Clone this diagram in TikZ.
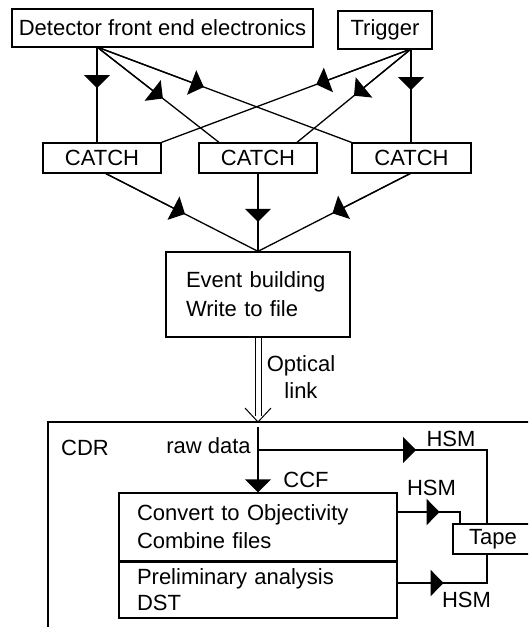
\documentclass[tikz,border=0pt]{standalone}
\usepackage{fontspec}
\setmainfont{Liberation Sans}
\usetikzlibrary{arrows.meta,calc}
\begin{document}
\begin{tikzpicture}[x=1pt,y=-1pt,
  every node/.style={font=\fontsize{22}{25}\selectfont},
  lw/.style={line width=1.3pt},
  box/.style={draw,lw,rectangle,inner sep=0pt,anchor=center},
  lbl/.style={inner sep=0pt,anchor=center},
  tipa/.style={lw,-{Triangle[width=26pt,length=13pt]}},
  conn/.style={lw}
]
\useasboundingbox (0,0) rectangle (528,627);
\clip (0,0) rectangle (528,627);

% top boxes
\node[box,minimum width=301pt,minimum height=38pt] (det) at (162.5,28) {Detector front end electronics};
\node[box,minimum width=94pt,minimum height=38pt] (trg) at (385,30) {Trigger};
\node[box,minimum width=118pt,minimum height=30pt] (c1) at (102,158) {CATCH};
\node[box,minimum width=118pt,minimum height=30pt] (c2) at (258,158) {CATCH};
\node[box,minimum width=119pt,minimum height=30pt] (c3) at (411.5,158) {CATCH};

\coordinate (d0) at (97,47);
\coordinate (t0) at (411,49);
\coordinate (c1t) at (d0 |- c1.north);
\coordinate (c2tl) at ([xshift=-39pt]c2.north);
\coordinate (c3t) at (t0 |- c3.north);
\coordinate (c2tr) at ([xshift=39pt]c2.north);

\draw[conn] (d0) -- (c1t);
\draw[tipa] (d0) -- ($(d0)!0.43!(c1t)$);
\draw[conn] (d0) -- (c2tl);
\draw[tipa] (d0) -- ($(d0)!0.54!(c2tl)$);
\draw[conn] (d0) -- (c3.north west);
\draw[tipa] (d0) -- ($(d0)!0.42!(c3.north west)$);
\draw[conn] (t0) -- (c3t);
\draw[tipa] (t0) -- ($(t0)!0.44!(c3t)$);
\draw[conn] (t0) -- (c2tr);
\draw[tipa] (t0) -- ($(t0)!0.5!(c2tr)$);
\draw[conn] (t0) -- (c1.north east);
\draw[tipa] (t0) -- ($(t0)!0.38!(c1.north east)$);

% event building
\node[box,minimum width=184pt,minimum height=85pt,text width=144pt,align=left,font=\fontsize{22}{29}\selectfont] (ev) at (258,294.5) {Event building\\Write to file};

\coordinate (c1b) at ([xshift=4pt]c1.south);
\coordinate (c3b) at ([xshift=-1.5pt]c3.south);
\draw[conn] (c1b) -- (ev.north);
\draw[tipa] (c1b) -- ($(c1b)!0.52!(ev.north)$);
\draw[conn] (c2.south) -- (ev.north);
\draw[tipa] (c2.south) -- ($(c2.south)!0.62!(ev.north)$);
\draw[conn] (c3b) -- (ev.north);
\draw[tipa] (c3b) -- ($(c3b)!0.51!(ev.north)$);

% optical link
\coordinate (oa) at (258,422);
\draw[line width=1pt] ([xshift=-3pt]ev.south) -- ([xshift=-3pt,yshift=6pt]oa);
\draw[line width=1pt] ([xshift=3pt]ev.south) -- ([xshift=3pt,yshift=6pt]oa);
\draw[line width=1pt] ([xshift=-13pt,yshift=14pt]oa) -- (oa) -- ([xshift=13pt,yshift=14pt]oa);
\node[lbl,align=center,font=\fontsize{22}{27}\selectfont] (opt) at (301,377.5) {Optical\\link};

% CDR frame
\coordinate (cdrbl) at (48,640);
\coordinate (cdrtl) at (48,422);
\coordinate (cdrtr) at (540,422);
\draw[lw] (cdrbl) -- (cdrtl) -- (cdrtr);
\node[lbl] (cdr) at (85,448) {CDR};
\node[lbl] (raw) at (208.5,446) {raw data};

\node[box,minimum width=278pt,minimum height=68pt,text width=242pt,align=left,font=\fontsize{22}{28}\selectfont] (ccf) at (258,527) {Convert to Objectivity\\Combine files};
\node[box,minimum width=278pt,minimum height=57pt,text width=242pt,align=left,font=\fontsize{22}{26}\selectfont] (pre) at (258,589.5) {Preliminary analysis\\DST};
\draw[line width=2pt] (ccf.south west) -- (ccf.south east);

\node[lbl] (ccflbl) at (306,480) {CCF};
\coordinate (rd) at (258,427);
\draw[tipa] (rd) -- (ccf.north);

\node[box,minimum width=80pt,minimum height=30pt] (tape) at (493,539) {Tape};

\coordinate (rdh) at (258,450);
\coordinate (tv) at (487,450);
\draw[conn] (rdh) -- (tv) -- (tv |- tape.north);
\draw[tipa] (rdh) -- ($(rdh)+(158,0)$);
\node[lbl] (hsm1) at (451,439) {HSM};

\coordinate (m0) at ([yshift=15pt]ccf.east);
\coordinate (mv) at (460,512);
\draw[conn] (m0) -- (mv) -- (mv |- tape.north);
\draw[tipa] (m0) -- ($(m0)+(42,0)$);
\node[lbl] (hsm2) at (431.5,488) {HSM};

\coordinate (b0) at ([yshift=6.5pt]pre.east);
\coordinate (bv) at (487,583);
\draw[conn] (b0) -- (bv) -- (bv |- tape.south);
\draw[tipa] (b0) -- ($(b0)+(46,0)$);
\node[lbl] (hsm3) at (466.5,600) {HSM};
\end{tikzpicture}
\end{document}
